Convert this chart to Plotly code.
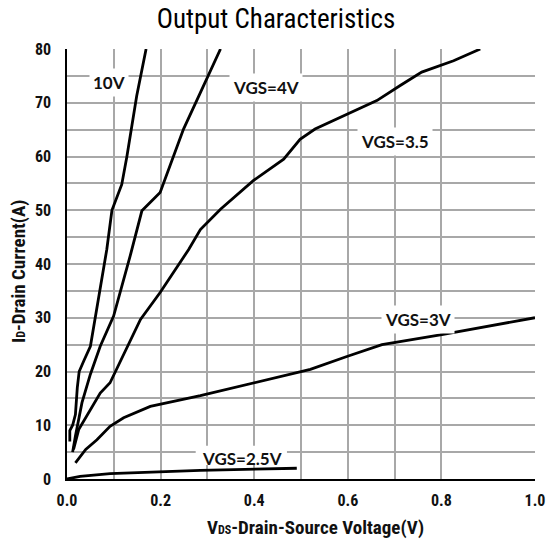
import plotly.graph_objects as go

# ---- data ----
v10_x = [0.006, 0.006, 0.012, 0.018, 0.022, 0.026, 0.036, 0.050, 0.085, 0.096, 0.117, 0.128, 0.149, 0.169]
v10_y = [7.0, 9.0, 10.0, 12.0, 17.0, 20.0, 22.0, 24.7, 42.7, 50.0, 54.8, 60.0, 71.3, 80.0]

v4_x = [0.012, 0.018, 0.032, 0.050, 0.071, 0.0996, 0.135, 0.160, 0.199, 0.228, 0.249, 0.285, 0.328]
v4_y = [5.0, 8.0, 14.2, 19.5, 24.7, 30.3, 41.5, 49.9, 53.3, 60.1, 65.1, 71.9, 80.0]

v35_x = [0.014, 0.025, 0.071, 0.092, 0.157, 0.199, 0.260, 0.285, 0.328, 0.398, 0.463, 0.498, 0.530,
         0.598, 0.662, 0.712, 0.758, 0.826, 0.883]
v35_y = [5.5, 9.2, 16.0, 17.9, 29.7, 34.7, 42.7, 46.4, 50.2, 55.5, 59.5, 63.2, 65.1,
         67.9, 70.4, 73.2, 75.7, 77.8, 80.0]

v3_x = [0.018, 0.040, 0.064, 0.092, 0.121, 0.178, 0.285, 0.398, 0.520, 0.598, 0.673, 0.804, 1.0]
v3_y = [3.0, 5.5, 7.3, 9.8, 11.4, 13.5, 15.5, 17.9, 20.4, 22.8, 25.0, 26.9, 30.0]

v25_x = [0.0, 0.028, 0.092, 0.285, 0.491]
v25_y = [0.0, 0.5, 1.0, 1.6, 2.0]

curve_labels = ["10V", "VGS=4V", "VGS=3.5", "VGS=3V", "VGS=2.5V"]

x_ticks = [0.0, 0.2, 0.4, 0.6, 0.8, 1.0]
x_minor = [0.1, 0.3, 0.5, 0.7]
y_ticks = [0, 10, 20, 30, 40, 50, 60, 70, 80]

NARROW = "Liberation Sans Narrow, Arial Narrow, Roboto Condensed, Liberation Sans, Arial, sans-serif"
LABEL = "Lato, Open Sans, sans-serif"

# plot-area geometry (pixels)
L, R, T, B = 67, 535, 49, 479
PW, PH = R - L, B - T

fig = go.Figure()
for xs, ys in [(v10_x, v10_y), (v4_x, v4_y), (v35_x, v35_y), (v3_x, v3_y), (v25_x, v25_y)]:
    fig.add_trace(go.Scatter(x=xs, y=ys, mode="lines",
                             line=dict(color="black", width=2.8), showlegend=False,
                             hoverinfo="skip"))

label_pos = [(0.089, 73.7), (0.426, 72.9), (0.701, 62.7), (0.751, 29.7), (0.373, 3.9)]
for i, (txt, (ax, ay)) in enumerate(zip(curve_labels, label_pos)):
    last = (i == len(curve_labels) - 1)
    fig.add_annotation(x=ax, y=ay, xref="x", yref="y", text="<b>%s</b>" % txt,
                       showarrow=False, bgcolor="rgba(0,0,0,0)" if last else "white",
                       borderpad=3,
                       font=dict(family=LABEL, size=17, color="#111"))

# white backing for the lowest label, kept beneath the curves
fig.add_shape(type="rect", xref="x", yref="y", x0=0.275, x1=0.47, y0=2.6, y1=6.2,
              fillcolor="white", line=dict(width=0), layer="between")

fig.add_annotation(x=(315 - L) / PW, y=-(527 - B) / PH, xref="paper", yref="paper",
                   text='<b>V<span style="font-size:12px">DS</span>-Drain-Source Voltage(V)</b>',
                   showarrow=False, xanchor="center", yanchor="middle",
                   font=dict(family=NARROW, size=19, color="#111"))
fig.add_annotation(x=(18 - L) / PW, y=(B - 272) / PH, xref="paper", yref="paper", textangle=-90,
                   text='<b>I<span style="font-size:12px">D</span>-Drain Current(A)</b>',
                   showarrow=False, xanchor="center", yanchor="middle",
                   font=dict(family=NARROW, size=19, color="#111"))

grid = "#a8a8a8"
fig.update_layout(
    width=547, height=547,
    margin=dict(l=L, r=547 - R, t=T, b=547 - B, autoexpand=False),
    paper_bgcolor="white", plot_bgcolor="white",
    title=dict(text="Output Characteristics", x=276 / 547, xanchor="center",
               y=1 - 19 / 547, yanchor="middle",
               font=dict(family=NARROW, size=27, color="black")),
    xaxis=dict(range=[0, 1], tickvals=x_ticks, ticktext=["%.1f" % v for v in x_ticks],
               showgrid=True, gridcolor=grid, gridwidth=1.5,
               minor=dict(tickvals=x_minor, showgrid=True, gridcolor=grid, gridwidth=1.5),
               showline=True, linecolor="black", linewidth=1.5, zeroline=False,
               ticks="", tickfont=dict(family=NARROW, size=16, color="#111", weight="bold"),
               ticklabelstandoff=6, automargin=False, fixedrange=True),
    yaxis=dict(range=[0, 80], tickvals=y_ticks,
               showgrid=True, gridcolor=grid, gridwidth=1.5,
               minor=dict(dtick=5, showgrid=True, gridcolor=grid, gridwidth=1.5),
               showline=True, linecolor="black", linewidth=1.5, zeroline=False,
               ticks="", tickfont=dict(family=NARROW, size=16, color="#111", weight="bold"),
               ticklabelstandoff=11, automargin=False, fixedrange=True),
)

fig.write_html("out.html")
